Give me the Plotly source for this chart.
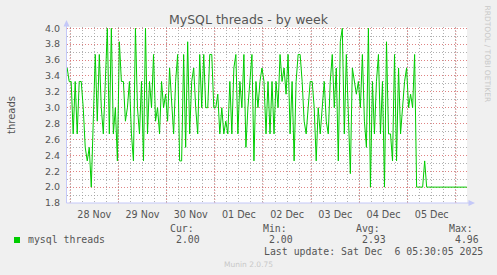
import plotly.graph_objects as go
import pandas as pd

# ---------------- data ----------------
start_time = "2025-11-27 22:30"
threads_part1 = [3.5, 3.33, 3.33, 2.67, 3.33, 2.67, 3.33, 3.33, 3.0, 2.5,
                 2.33, 2.5, 2.0, 3.0, 3.67, 2.83, 3.67, 3.0, 2.67, 3.33,
                 4.0, 2.67, 4.0, 2.67, 3.0, 2.33, 3.83, 3.33, 3.33, 2.83,
                 3.0, 3.33, 2.67, 2.33, 4.0, 3.0, 2.67, 3.33, 2.33, 4.0,
                 2.67, 3.33, 3.0, 3.67, 2.83, 3.0, 2.67, 3.33, 3.0, 3.17]
threads_part2 = [2.83, 3.5, 3.0, 2.67, 3.33, 3.67, 2.33, 2.33, 3.67, 2.5,
                 3.83, 2.67, 3.33, 3.5, 3.0, 2.67, 3.67, 3.0, 3.67, 3.0,
                 3.0, 3.67, 3.67, 3.0, 3.0, 3.17, 2.67, 3.0, 2.67, 2.83,
                 2.67, 3.33, 2.67, 3.5, 3.67, 2.67, 3.33, 3.0, 3.67, 2.5,
                 3.0, 3.33, 3.67, 2.33, 3.33, 3.0, 3.33, 3.5, 3.33, 2.67,
                 3.33]
threads_part3 = [2.67, 3.33, 2.67, 3.33, 3.0, 3.67, 3.33, 3.5, 3.17, 3.67,
                 2.67, 3.33, 2.33, 3.33, 3.67, 3.67, 3.33, 2.83, 2.67, 3.0,
                 3.33, 3.33, 3.0, 2.33, 3.0, 2.67, 3.0, 3.33, 2.83, 2.67,
                 3.33, 3.67, 3.0, 3.5, 2.33, 3.83, 4.0, 2.67, 3.67, 3.0,
                 2.17, 3.5, 3.33, 3.17, 3.33, 3.0, 3.67, 2.83, 2.5, 4.0]
threads_part4 = [2.0, 3.33, 2.67, 3.33, 3.67, 2.67, 3.33, 2.0, 3.83, 2.67,
                 2.67, 2.33, 3.67, 2.33, 3.5, 2.67, 3.0, 3.33, 3.5, 3.0,
                 3.17, 3.0, 3.67, 2.0, 2.0, 2.0, 2.0, 2.33, 2.0, 2.0,
                 2.0, 2.0, 2.0, 2.0, 2.0, 2.0, 2.0, 2.0, 2.0, 2.0,
                 2.0, 2.0, 2.0, 2.0, 2.0, 2.0, 2.0, 2.0, 2.0]
threads = threads_part1 + threads_part2 + threads_part3 + threads_part4
times = pd.date_range(start_time, periods=len(threads), freq="1h")

day_midnights = ["2025-11-28", "2025-11-29", "2025-11-30", "2025-12-01", "2025-12-02",
                 "2025-12-03", "2025-12-04", "2025-12-05", "2025-12-06"]
day_label_pos = ["2025-11-28 12:00", "2025-11-29 12:00", "2025-11-30 12:00", "2025-12-01 12:00",
                 "2025-12-02 12:00", "2025-12-03 12:00", "2025-12-04 12:00", "2025-12-05 12:00"]
day_labels = ["28 Nov", "29 Nov", "30 Nov", "01 Dec", "02 Dec", "03 Dec", "04 Dec", "05 Dec"]
x_range = ["2025-11-27 22:25", "2025-12-06 05:35"]
y_range = [1.8, 4.016]

series_name = "mysql threads"
stat_cur, stat_min, stat_avg, stat_max = "2.00", "2.00", "2.93", "4.96"
last_update = "Last update: Sat Dec \u00a06 05:30:05 2025"

# ---------------- layout helpers ----------------
W, H = 497, 275
L, R, T, B = 67, 30, 27, 72
PW, PH = W - L - R, H - T - B


def px(x):
    return (x - L) / PW


def py(y):
    return (H - B - y) / PH


GREEN = "#00CC00"
TXT = "#555555"
MAJ = "rgba(215,100,100,0.8)"
MIN = "rgba(150,150,150,0.75)"
AXC = "#C4C8F8"
MONO = "DejaVu Sans Mono"
SANS = "DejaVu Sans"
DASH = "1px,2px"

fig = go.Figure()
fig.add_trace(go.Scatter(x=times, y=threads, mode="lines",
                         line=dict(color=GREEN, width=1), showlegend=False,
                         hoverinfo="skip"))

shapes = []
for d in day_midnights:
    shapes.append(dict(type="line", xref="x", yref="paper", x0=d, x1=d, y0=0, y1=1,
                       line=dict(color=MAJ, width=1, dash=DASH), layer="below"))
# axis lines with arrows
shapes.append(dict(type="line", xref="paper", yref="paper", x0=px(66.5), x1=px(66.5),
                   y0=py(203), y1=py(24), line=dict(color=AXC, width=1)))
shapes.append(dict(type="path", xref="paper", yref="paper",
                   path=f"M {px(63.5)},{py(26.5)} L {px(69.5)},{py(26.5)} L {px(66.5)},{py(20)} Z",
                   fillcolor=AXC, line=dict(width=0)))
shapes.append(dict(type="line", xref="paper", yref="paper", x0=px(66.5), x1=px(470),
                   y0=py(203), y1=py(203), line=dict(color=AXC, width=1)))
shapes.append(dict(type="path", xref="paper", yref="paper",
                   path=f"M {px(468.5)},{py(200)} L {px(468.5)},{py(206)} L {px(475)},{py(203)} Z",
                   fillcolor=AXC, line=dict(width=0)))
# legend swatch
shapes.append(dict(type="rect", xref="paper", yref="paper", x0=px(14), x1=px(20),
                   y0=py(243), y1=py(237), fillcolor=GREEN, line=dict(width=0)))

annotations = []


def text(t, x, y, size, color=TXT, family=SANS, xanchor="left", angle=0):
    annotations.append(dict(text=t, x=px(x), y=py(y), xref="paper", yref="paper",
                            xanchor=xanchor, yanchor="middle", showarrow=False,
                            textangle=angle, font=dict(family=family, size=size, color=color)))


text("MySQL threads - by week", 248.5, 19, 12.5, color="#555555", xanchor="center")
text("threads", 11, 115, 10, xanchor="center", angle=-90)
text("RRDTOOL / TOBI OETIKER", 487, 53.5, 7.5, color="#C8C8C8", xanchor="center", angle=90)
text(series_name, 26, 239, 9.85, family=MONO)
text("Cur:", 168, 228, 9.85, family=MONO)
text(stat_cur, 174, 239, 9.85, family=MONO)
text("Min:", 261, 228, 9.85, family=MONO)
text(stat_min, 267, 239, 9.85, family=MONO)
text("Avg:", 354, 228, 9.85, family=MONO)
text(stat_avg, 360, 239, 9.85, family=MONO)
text("Max:", 447, 228, 9.85, family=MONO)
text(stat_max, 453, 239, 9.85, family=MONO)
text(last_update, 262, 251, 9.85, family=MONO)
text("Munin 2.0.75", 248, 264, 7.5, color="#C8C8C8", xanchor="center")

fig.update_layout(
    width=W, height=H,
    margin=dict(l=L, r=R, t=T, b=B, pad=0),
    paper_bgcolor="#F0F0F0", plot_bgcolor="#FFFFFF",
    font=dict(family=SANS, color=TXT),
    shapes=shapes, annotations=annotations,
    xaxis=dict(type="date", range=x_range, tickmode="array", tickvals=day_label_pos,
               ticktext=day_labels, showgrid=False, zeroline=False, showline=False,
               ticks="", ticklabelstandoff=4, tickfont=dict(size=9.6, color=TXT),
               minor=dict(tickmode="linear", tick0="2025-11-28", dtick=6 * 3600 * 1000,
                          showgrid=True, gridcolor=MIN, griddash=DASH, gridwidth=1, ticks="")),
    yaxis=dict(range=y_range, tick0=1.8, dtick=0.2, tickformat=".1f", showgrid=True,
               gridcolor=MAJ, griddash=DASH, gridwidth=1, zeroline=False, showline=False,
               ticks="", ticklabelstandoff=6, tickfont=dict(size=9.5, color=TXT),
               minor=dict(tick0=1.8, dtick=0.1, showgrid=True, gridcolor=MIN,
                          griddash=DASH, gridwidth=1, ticks="")),
)

fig.write_html("out.html")
